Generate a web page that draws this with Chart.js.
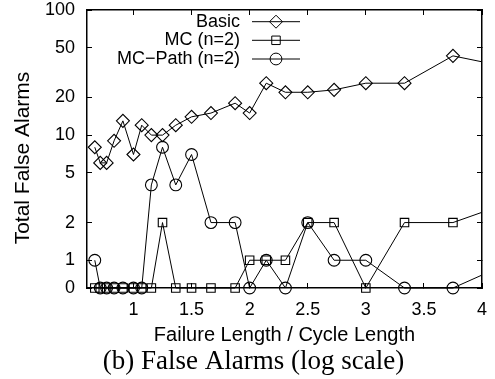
<!DOCTYPE html>
<html>
<head>
<meta charset="utf-8">
<script src="https://cdn.jsdelivr.net/npm/chart.js@4.4.1/dist/chart.umd.min.js"></script>
<style>
  html, body { margin: 0; padding: 0; background: #fff; }
</style>
</head>
<body>
<canvas id="myChart" width="495" height="379"></canvas>
<script>
// failure length / cycle length of every sample
const ratios = [0.667, 0.714, 0.769, 0.833, 0.909, 1.0, 1.071, 1.154, 1.25, 1.364, 1.5,
                1.667, 1.875, 2.0, 2.143, 2.308, 2.5, 2.727, 3.0, 3.333, 3.75, 4.286];
const basic  = [8, 6, 6, 9, 13, 7, 12, 10, 10, 12, 14, 15, 18, 15, 26, 22, 22, 23, 26, 26, 43, 34];
const mc     = [0, 0, 0, 0, 0, 0, 0, 0, 2, 0, 0, 0, 0, 1, 1, 1, 2, 2, 0, 2, 2, 3];
const mcPath = [1, 0, 0, 0, 0, 0, 0, 4, 8, 4, 7, 2, 2, 0, 1, 0, 2, 1, 1, 0, 0, 1];

const seriesNames = ['Basic', 'MC (n=2)', 'MC\u2212Path (n=2)'];
const xTicks = [1, 1.5, 2, 2.5, 3, 3.5, 4];
const yTicks = [0, 1, 2, 5, 10, 20, 50, 100];
const zeroAt = 0.6; // a zero count is drawn here on the log axis

const markers = ['rectRot', 'rect', 'circle'];
const markerSize = [6.5, 6, 5.9];

function toPoints(vals) {
  return vals.map((v, i) => ({ x: ratios[i], y: v === 0 ? zeroAt : v }));
}

Chart.defaults.color = '#000';
Chart.defaults.font.family = "'Liberation Sans', Arial, sans-serif";

function drawMarker(c, style, x, y, r) {
  c.beginPath();
  if (style === 'rectRot') {
    c.moveTo(x, y - r); c.lineTo(x + r, y); c.lineTo(x, y + r); c.lineTo(x - r, y);
    c.closePath();
  } else if (style === 'rect') {
    const s = r * Math.SQRT1_2;
    c.rect(x - s, y - s, 2 * s, 2 * s);
  } else {
    c.arc(x, y, r, 0, Math.PI * 2);
  }
  c.stroke();
}

// gnuplot style key, y axis title and the caption under the plot
const key = {
  id: 'gnuKey',
  afterDraw(chart) {
    const c = chart.ctx;
    const rows = [21.7, 40.3, 59];
    c.save();
    // blank out the bits of line that run past the right border
    c.fillStyle = '#fff';
    c.fillRect(483, 0, 12, 291);
    c.strokeStyle = '#000';
    c.fillStyle = '#000';
    c.lineWidth = 1;
    c.font = "18px 'Liberation Sans', Arial, sans-serif";
    c.textAlign = 'right';
    c.textBaseline = 'middle';
    seriesNames.forEach((name, i) => {
      const y = rows[i];
      c.fillText(name, 240, y);
      c.beginPath();
      c.moveTo(252, y); c.lineTo(300, y);
      c.stroke();
      drawMarker(c, markers[i], 276, y, markerSize[i]);
    });
    c.textAlign = 'center';
    c.textBaseline = 'alphabetic';
    c.font = "27px 'Liberation Serif', 'Times New Roman', serif";
    c.fillText('(b) False Alarms (log scale)', 253.5, 368.5);
    c.translate(29, 158);
    c.rotate(-Math.PI / 2);
    c.font = "21px 'Liberation Sans', Arial, sans-serif";
    c.fillText('Total False Alarms', 0, 0);
    c.restore();
  }
};

const datasets = [basic, mc, mcPath].map((vals, i) => ({
  label: seriesNames[i],
  data: toPoints(vals),
  borderColor: '#000',
  borderWidth: 1,
  backgroundColor: 'rgba(0,0,0,0)',
  pointStyle: markers[i],
  pointRadius: markerSize[i],
  pointBorderWidth: 1.1,
  pointBorderColor: '#000',
  pointBackgroundColor: 'rgba(0,0,0,0)',
  tension: 0,
  xAxisID: 'x',
  yAxisID: 'y',
  clip: { left: 10, top: 10, right: 0, bottom: 10 }
}));

// inward tick marks and a black frame, gnuplot style
const inwardGrid = { display: true, drawOnChartArea: false, drawTicks: true, tickLength: -5, color: '#000', lineWidth: 1 };
const frameBorder = { display: true, color: '#000', width: 1.5 };

const myChart = new Chart(document.getElementById('myChart').getContext('2d'), {
  type: 'line',
  data: { datasets: datasets },
  options: {
    responsive: false,
    animation: false,
    layout: { padding: { left: 0, right: 13, top: 10, bottom: 33 } },
    scales: {
      x: {
        type: 'linear',
        position: 'bottom',
        min: 0.6,
        max: 4,
        afterBuildTicks: s => { s.ticks = xTicks.map(v => ({ value: v })); },
        afterFit: s => { s.height = 58; s.paddingLeft = 0; s.paddingRight = 0; },
        grid: inwardGrid,
        border: frameBorder,
        ticks: { font: { size: 18, lineHeight: 1 }, padding: 18, maxRotation: 0, autoSkip: false, callback: v => String(v) },
        title: {
          display: true,
          text: 'Failure Length / Cycle Length',
          font: { size: 20, lineHeight: 1 },
          padding: { top: 0, bottom: 1 }
        }
      },
      x2: {
        type: 'linear',
        position: 'top',
        min: 0.6,
        max: 4,
        afterBuildTicks: s => { s.ticks = xTicks.map(v => ({ value: v })); },
        afterFit: s => { s.height = 0; s.paddingLeft = 0; s.paddingRight = 0; },
        grid: inwardGrid,
        border: frameBorder,
        ticks: { display: false }
      },
      y: {
        type: 'logarithmic',
        position: 'left',
        min: zeroAt,
        max: 100,
        afterBuildTicks: s => { s.ticks = yTicks.map(v => ({ value: v === 0 ? zeroAt : v })); },
        afterFit: s => { s.width = 87; s.paddingTop = 0; s.paddingBottom = 0; },
        grid: inwardGrid,
        border: frameBorder,
        ticks: { font: { size: 18, lineHeight: 1 }, padding: 17, autoSkip: false, callback: v => (v === zeroAt ? '0' : String(v)) }
      },
      y2: {
        type: 'logarithmic',
        position: 'right',
        min: zeroAt,
        max: 100,
        afterBuildTicks: s => { s.ticks = yTicks.map(v => ({ value: v === 0 ? zeroAt : v })); },
        afterFit: s => { s.width = 0; s.paddingTop = 0; s.paddingBottom = 0; },
        grid: inwardGrid,
        border: frameBorder,
        ticks: { display: false }
      }
    },
    plugins: {
      legend: { display: false },
      tooltip: { enabled: false }
    }
  },
  plugins: [key]
});
</script>
</body>
</html>
